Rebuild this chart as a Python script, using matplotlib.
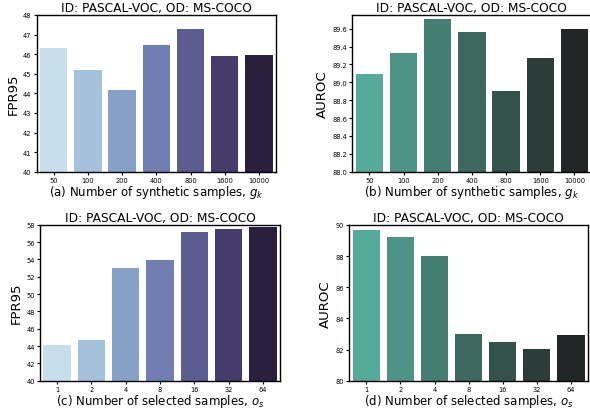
import matplotlib
matplotlib.use('Agg')
import matplotlib.pyplot as plt
import seaborn as sns

# data
gk_labels = ['50', '100', '200', '400', '800', '1600', '10000']
gk_fpr95 = [46.30, 45.19, 44.17, 46.46, 47.29, 45.90, 45.95]
gk_auroc = [89.09, 89.33, 89.71, 89.56, 88.90, 89.27, 89.60]

os_labels = ['1', '2', '4', '8', '16', '32', '64']
os_fpr95 = [44.08, 44.69, 53.00, 53.92, 57.12, 57.50, 57.69]
os_auroc = [89.70, 89.25, 88.03, 82.97, 82.48, 82.01, 82.93]

title = 'ID: PASCAL-VOC, OD: MS-COCO'

blue_pal = sns.color_palette('ch:s=.25,rot=-.25', 7)
green_pal = sns.color_palette('dark:#5A9_r', 7)

W, H = 590, 410
fig = plt.figure(figsize=(5.9, 4.1), dpi=100)


def box(l, t, r, b):
    # pixel box -> figure fraction
    return [l / W, 1 - b / H, (r - l) / W, (b - t) / H]


def panel(rect, labels, vals, pal, ylabel, xlabel, ylim, yticks):
    ax = fig.add_axes(rect)
    x = range(len(labels))
    ax.bar(x, vals, width=0.8, color=pal)
    ax.set_xlim(-0.5, len(labels) - 0.5)
    ax.set_ylim(*ylim)
    ax.set_yticks(yticks)
    ax.set_xticks(list(x))
    ax.set_xticklabels(labels)
    ax.tick_params(labelsize=4.8, length=2, width=0.8)
    ax.tick_params(axis='x', pad=1.5)
    ax.tick_params(axis='y', pad=1.8)
    ax.set_title(title, fontsize=8.8, pad=3)
    ax.set_ylabel(ylabel, fontsize=9.5, labelpad=2.5)
    ax.set_xlabel(xlabel, fontsize=8.5, labelpad=0.5)
    for s in ax.spines.values():
        s.set_linewidth(1.0)
    return ax


panel(box(36.7, 16, 276, 172.7), gk_labels, gk_fpr95, blue_pal, 'FPR95',
      '(a) Number of synthetic samples, $g_k$', (40, 48), range(40, 49))
ax = panel(box(352.3, 16, 591.5, 172.7), gk_labels, gk_auroc, green_pal, 'AUROC',
           '(b) Number of synthetic samples, $g_k$', (88.0, 89.754),
           [88.0 + 0.2 * i for i in range(9)])
ax.set_yticklabels(['%.1f' % (88.0 + 0.2 * i) for i in range(9)])
panel(box(40, 225.7, 280, 381.7), os_labels, os_fpr95, blue_pal, 'FPR95',
      '(c) Number of selected samples, $o_s$', (40, 58), range(40, 59, 2))
panel(box(349.3, 226, 588, 381.7), os_labels, os_auroc, green_pal, 'AUROC',
      '(d) Number of selected samples, $o_s$', (80, 90), range(80, 91, 2))

fig.savefig('out.png', dpi=100)
